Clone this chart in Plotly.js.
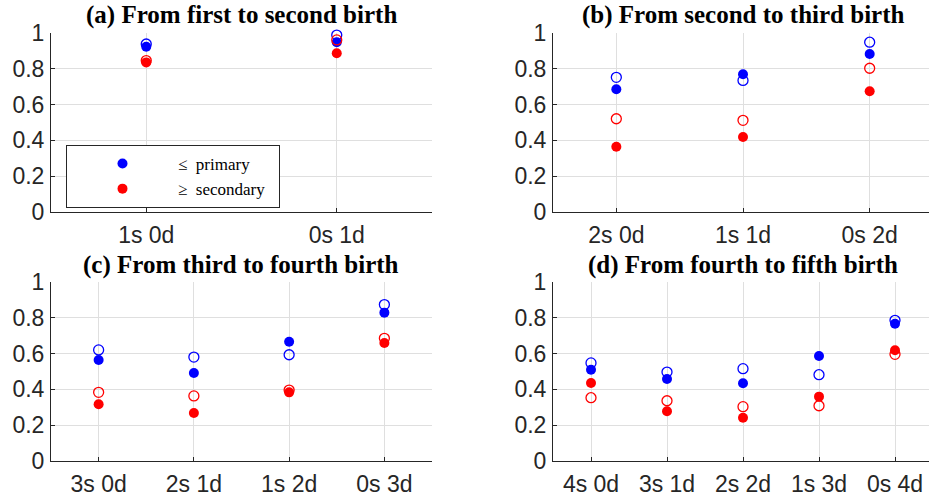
<!DOCTYPE html>
<html>
<head>
<meta charset="utf-8">
<script src="https://cdn.plot.ly/plotly-3.0.1.min.js"></script>
<style>
html,body{margin:0;padding:0;overflow:hidden;background:#fff;}
#chart{width:933px;height:499px;}
</style>
</head>
<body>
<div id="chart"></div>
<script>
// Panel (a)
const catsA = ["1s 0d", "0s 1d"];
const primFilledA = [0.925, 0.950];
const primOpenA   = [0.940, 0.990];
const secFilledA  = [0.837, 0.888];
const secOpenA    = [0.847, 0.963];
// Panel (b)
const catsB = ["2s 0d", "1s 1d", "0s 2d"];
const primFilledB = [0.686, 0.770, 0.884];
const primOpenB   = [0.753, 0.736, 0.950];
const secFilledB  = [0.364, 0.419, 0.675];
const secOpenB    = [0.521, 0.512, 0.804];
// Panel (c)
const catsC = ["3s 0d", "2s 1d", "1s 2d", "0s 3d"];
const primFilledC = [0.564, 0.492, 0.667, 0.830];
const primOpenC   = [0.621, 0.581, 0.594, 0.875];
const secFilledC  = [0.316, 0.267, 0.383, 0.660];
const secOpenC    = [0.383, 0.363, 0.396, 0.686];
// Panel (d)
const catsD = ["4s 0d", "3s 1d", "2s 2d", "1s 3d", "0s 4d"];
const primFilledD = [0.510, 0.458, 0.434, 0.587, 0.768];
const primOpenD   = [0.548, 0.497, 0.516, 0.482, 0.787];
const secFilledD  = [0.436, 0.277, 0.241, 0.359, 0.619];
const secOpenD    = [0.353, 0.336, 0.303, 0.308, 0.596];

const titles = ["(a) From first to second birth", "(b) From second to third birth",
                "(c) From third to fourth birth", "(d) From fourth to fifth birth"];
const legendNames = ["\u2264\u2002primary", "\u2265\u2002secondary\u2002"];

const BLUE = "#0000ff", RED = "#ff0000";
const panels = [
  {cats: catsA, pf: primFilledA, po: primOpenA, sf: secFilledA, so: secOpenA},
  {cats: catsB, pf: primFilledB, po: primOpenB, sf: secFilledB, so: secOpenB},
  {cats: catsC, pf: primFilledC, po: primOpenC, sf: secFilledC, so: secOpenC},
  {cats: catsD, pf: primFilledD, po: primOpenD, sf: secFilledD, so: secOpenD}
];

const W = 933, H = 499;
const xDom = [[51/W, 432/W], [553/W, 1], [51/W, 432/W], [553/W, 1]];
const yDom = [[1-211.7/H, 1-33.3/H], [1-211.7/H, 1-33.3/H], [1-460.7/H, 1-282.3/H], [1-460.7/H, 1-282.3/H]];
const titleY = [15, 15, 264.5, 264.5];

const data = [];
const layout = {
  width: W, height: H,
  margin: {l: 0, r: 0, t: 0, b: 0},
  paper_bgcolor: "#ffffff", plot_bgcolor: "#ffffff",
  font: {family: "Liberation Sans, Arial, sans-serif", color: "#262626"},
  showlegend: true,
  legend: {
    x: 66/W, y: 1-145/H, xanchor: "left", yanchor: "top",
    bordercolor: "#262626", borderwidth: 1, bgcolor: "#ffffff",
    font: {family: "Liberation Serif, Times New Roman, serif", size: 17, color: "#000000"},
    itemwidth: 101, tracegroupgap: 0
  },
  annotations: []
};

panels.forEach((p, i) => {
  const n = i + 1;
  const xa = n === 1 ? "x" : "x" + n;
  const ya = n === 1 ? "y" : "y" + n;
  const common = {type: "scatter", mode: "markers", x: p.cats, xaxis: xa, yaxis: ya, cliponaxis: false, hoverinfo: "skip"};
  data.push(Object.assign({}, common, {y: p.po, showlegend: false,
    marker: {symbol: "circle-open", size: 10, color: BLUE, line: {width: 1.3, color: BLUE}}}));
  data.push(Object.assign({}, common, {y: p.pf, name: legendNames[0], showlegend: i === 0,
    marker: {symbol: "circle", size: 10, color: BLUE, line: {width: 0}}}));
  data.push(Object.assign({}, common, {y: p.so, showlegend: false,
    marker: {symbol: "circle-open", size: 10, color: RED, line: {width: 1.3, color: RED}}}));
  data.push(Object.assign({}, common, {y: p.sf, name: legendNames[1], showlegend: i === 0,
    marker: {symbol: "circle", size: 10, color: RED, line: {width: 0}}}));

  const axCommon = {
    showline: true, linecolor: "#262626", linewidth: 1,
    showgrid: true, gridcolor: "#dfdfdf", gridwidth: 1,
    zeroline: false, ticks: "inside", ticklen: 4, tickwidth: 1, tickcolor: "#262626",
    tickfont: {family: "Liberation Sans, Arial, sans-serif", size: 23, color: "#262626"},
    mirror: false, fixedrange: true
  };
  layout["xaxis" + (n === 1 ? "" : n)] = Object.assign({}, axCommon, {
    type: "category", categoryorder: "array", categoryarray: p.cats,
    range: [-0.5, p.cats.length - 0.5], domain: xDom[i], anchor: ya,
    ticklabelstandoff: 3
  });
  layout["yaxis" + (n === 1 ? "" : n)] = Object.assign({}, axCommon, {
    range: [0, 1], tickvals: [0, 0.2, 0.4, 0.6, 0.8, 1], ticktext: ["0", "0.2", "0.4", "0.6", "0.8", "1"],
    domain: yDom[i], anchor: xa, ticklabelstandoff: 1
  });
  layout.annotations.push({
    text: "<b>" + titles[i] + "</b>", xref: "paper", yref: "paper",
    x: (xDom[i][0] + xDom[i][1]) / 2, y: 1 - titleY[i] / H,
    xanchor: "center", yanchor: "middle", showarrow: false,
    font: {family: "Liberation Serif, Times New Roman, serif", size: 25, color: "#000000"}
  });
});

Plotly.newPlot("chart", data, layout, {displayModeBar: false, staticPlot: true});
</script>
</body>
</html>
